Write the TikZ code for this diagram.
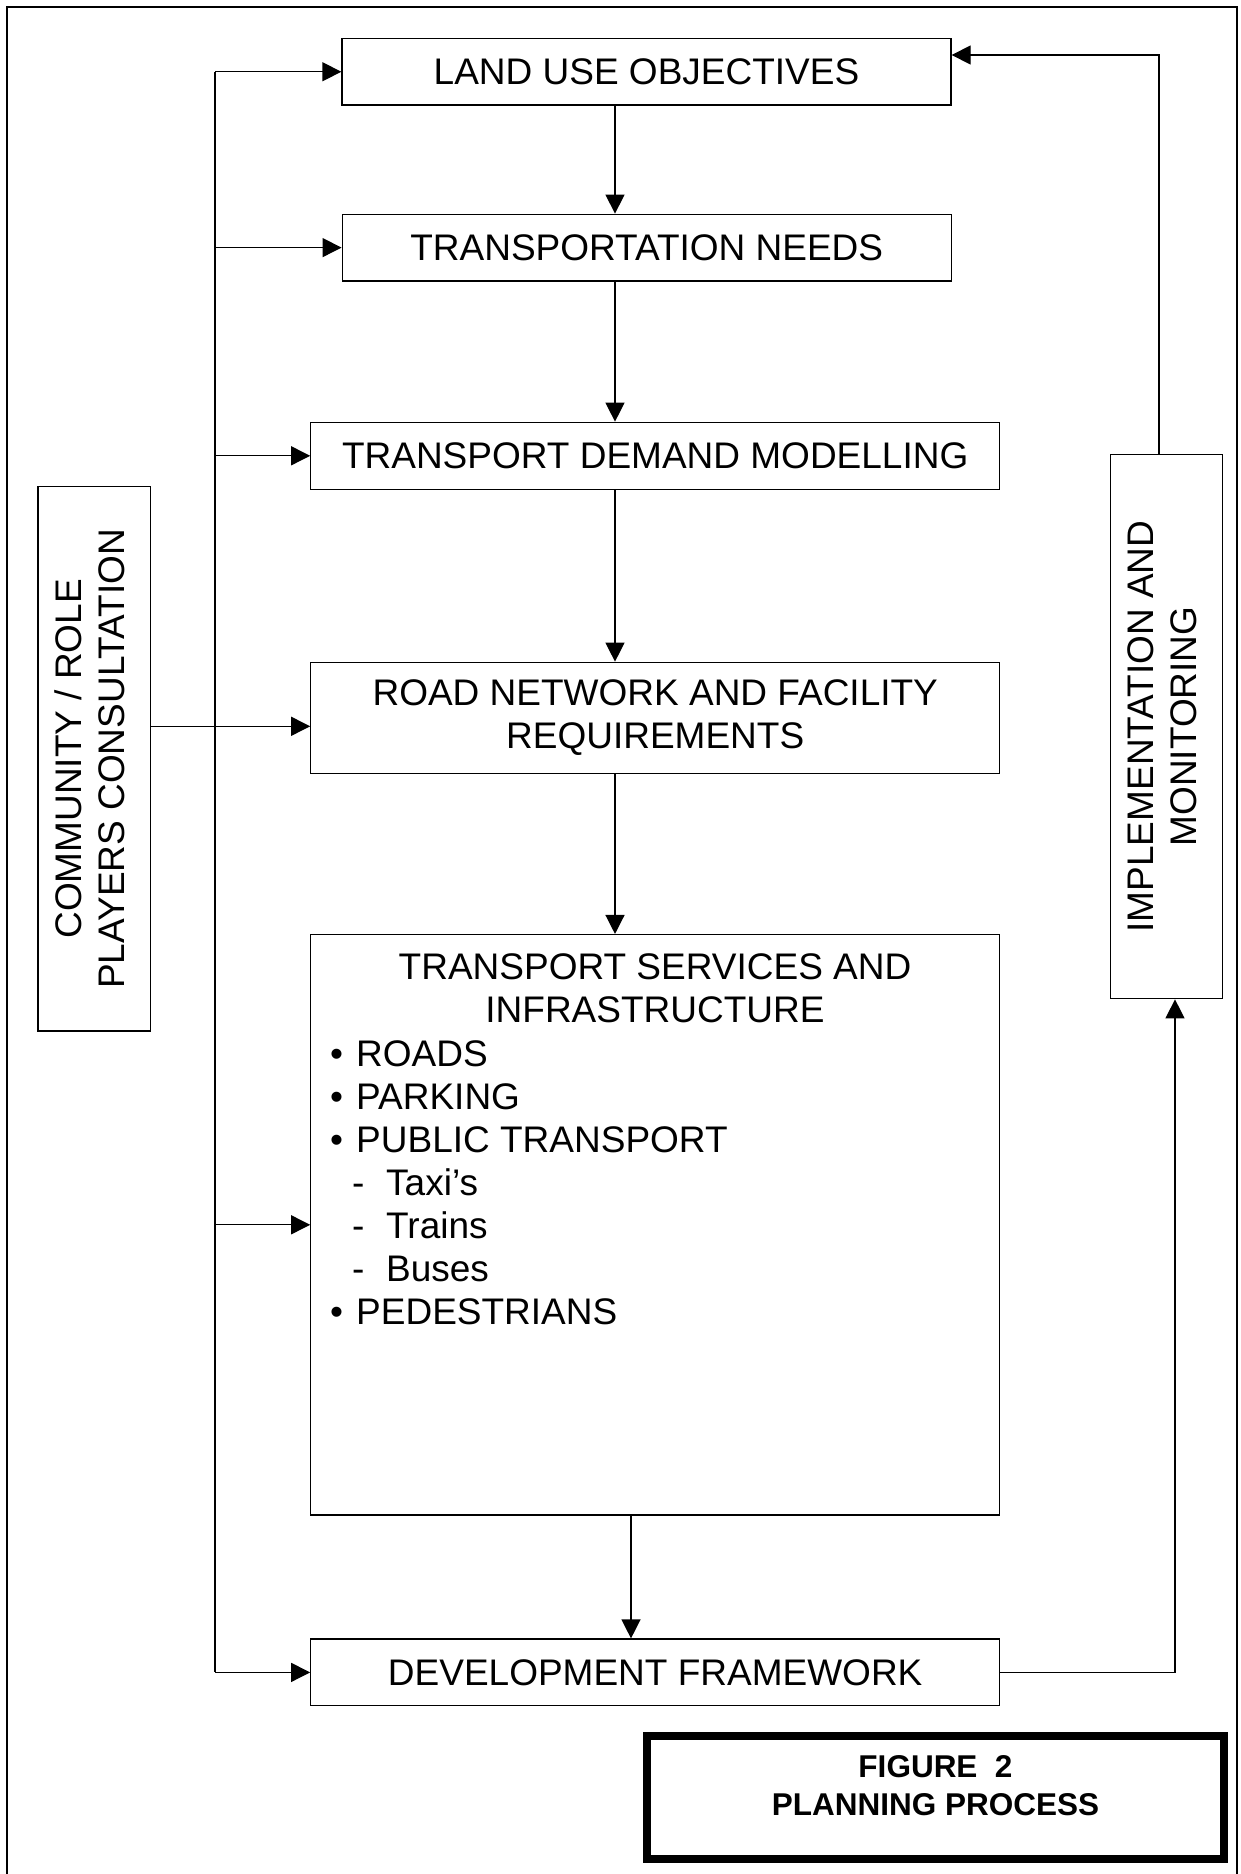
\documentclass[tikz,border=0pt]{standalone}
\usepackage{fontspec}
\usepackage{graphicx}
\setmainfont{Liberation Sans}
\usetikzlibrary{arrows.meta}
\begin{document}
\begin{tikzpicture}[x=1pt,y=-1pt,
  box/.style={draw, line width=1.3pt, inner sep=0pt, align=center, font=\fontsize{37}{43}\selectfont},
  txt/.style={inner sep=0pt, font=\fontsize{37}{43}\selectfont},
  arr/.style={line width=1.3pt, -{Triangle[length=19pt,width=19pt]}},
  ln/.style={line width=1.3pt}
]
\useasboundingbox (0,0) rectangle (1240,1874);
% outer frame
\draw[line width=1.5pt] (7,1874) -- (7,7) -- (1237,7) -- (1237,1874);

% main boxes
\node[box, minimum width=609, minimum height=66.5] (lu) at (646.5,71.75) {LAND USE OBJECTIVES};
\node[box, minimum width=609, minimum height=66.7] (tn) at (646.7,247.6) {TRANSPORTATION NEEDS};
\node[box, minimum width=688.8, minimum height=67] (tdm) at (655.2,455.8) {TRANSPORT DEMAND MODELLING};
\node[box, minimum width=688.8, minimum height=111.4] (rnf) at (655.2,718) {ROAD NETWORK AND FACILITY\\REQUIREMENTS};
\node[box, minimum width=688.8, minimum height=580.4] (tsi) at (655.2,1224.8) {};
\node[box, minimum width=688.8, minimum height=66.7] (df) at (655.2,1672.4) {DEVELOPMENT FRAMEWORK};
\node[box, minimum width=112.3, minimum height=544.5] (comm) at (94.2,758.8)
  {\rotatebox{90}{\begin{tabular}{@{}c@{}}COMMUNITY / ROLE\\PLAYERS CONSULTATION\end{tabular}}};
\node[box, minimum width=111.5, minimum height=544.4] (impl) at (1166.5,726.5)
  {\rotatebox{90}{\begin{tabular}{@{}c@{}}IMPLEMENTATION AND\\MONITORING\end{tabular}}};

% TSI content
\node[txt, align=center] (tsititle) at (655,988.5) {TRANSPORT SERVICES AND\\INFRASTRUCTURE};
\node[txt, anchor=base west] (i1) at (330,1066) {\makebox[26pt][l]{\textbullet}ROADS};
\node[txt, anchor=base west] (i2) at (330,1109) {\makebox[26pt][l]{\textbullet}PARKING};
\node[txt, anchor=base west] (i3) at (330,1152) {\makebox[26pt][l]{\textbullet}PUBLIC TRANSPORT};
\node[txt, anchor=base west] (i4) at (352,1195) {\makebox[34pt][l]{-}Taxi’s};
\node[txt, anchor=base west] (i5) at (352,1238) {\makebox[34pt][l]{-}Trains};
\node[txt, anchor=base west] (i6) at (352,1281) {\makebox[34pt][l]{-}Buses};
\node[txt, anchor=base west] (i7) at (330,1324) {\makebox[26pt][l]{\textbullet}PEDESTRIANS};

% figure caption box
\node[draw, line width=8pt, minimum width=577, minimum height=123.5, inner sep=0pt] (fig) at (935.5,1797.25) {};
\node[inner sep=0pt, align=center, font=\fontsize{31.5}{38}\selectfont\bfseries] (figtext) at (935.5,1786) {FIGURE\ \ 2\\PLANNING PROCESS};

% helper coordinates
\coordinate (cx) at (615,0);
\coordinate (cx2) at (631,0);
\coordinate (bus) at (215,0);
\coordinate (ry) at (0,726.3);
\coordinate (rx1) at (1159,0);
\coordinate (rx2) at (1175,0);
\coordinate (ly) at (0,55);

% main chain
\draw[arr] (lu.south -| cx) -- (tn.north -| cx);
\draw[arr] (tn.south -| cx) -- (tdm.north -| cx);
\draw[arr] (tdm.south -| cx) -- (rnf.north -| cx);
\draw[arr] (rnf.south -| cx) -- (tsi.north -| cx);
\draw[arr] (tsi.south -| cx2) -- (df.north -| cx2);

% left bus
\draw[ln] (bus |- lu.west) -- (bus |- df.west);
\draw[arr] (bus |- lu.west) -- (lu.west);
\draw[arr] (bus |- tn.west) -- (tn.west);
\draw[arr] (bus |- tdm.west) -- (tdm.west);
\draw[arr] (bus |- tsi.west) -- (tsi.west);
\draw[arr] (bus |- df.west) -- (df.west);
\draw[arr] (comm.east |- ry) -- (rnf.west |- ry);

% right feedback
\draw[arr] (df.east) -- (rx2 |- df.east) -- (rx2 |- impl.south);
\draw[arr] (rx1 |- impl.north) -- (rx1 |- ly) -- (lu.east |- ly);
\end{tikzpicture}
\end{document}
